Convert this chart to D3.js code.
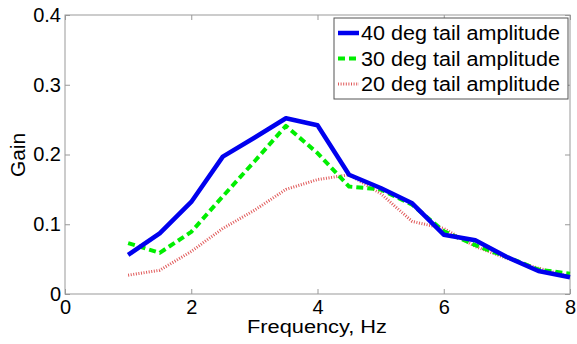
<!DOCTYPE html>
<html>
<head>
<meta charset="utf-8">
<script src="https://cdn.jsdelivr.net/npm/d3@7"></script>
<style>
	body { margin: 0; background: #fff; }
	text { font-family: "Liberation Sans", Arial, sans-serif; fill: #000; }
	.frame { fill: none; stroke: #999; stroke-width: 1; }
	.domain { display: none; }
</style>
</head>
<body>
<svg id="chart" width="577" height="344"></svg>
<script>
var freq = [1, 1.5, 2, 2.5, 3, 3.5, 4, 4.5, 5, 5.5, 6, 6.5, 7, 7.5, 8];
var gain40 = [0.056, 0.087, 0.132, 0.197, 0.224, 0.252, 0.242, 0.171, 0.152, 0.130, 0.085, 0.077, 0.053, 0.033, 0.024];
var gain30 = [0.073, 0.059, 0.089, 0.140, 0.190, 0.241, 0.202, 0.154, 0.150, 0.128, 0.090, 0.070, 0.053, 0.035, 0.029];
var gain20 = [0.027, 0.034, 0.061, 0.094, 0.120, 0.150, 0.164, 0.171, 0.144, 0.104, 0.094, 0.068, 0.051, 0.037, 0.025];
var xTicks = [0, 2, 4, 6, 8];
var yTicks = [0, 0.1, 0.2, 0.3, 0.4];
var seriesNames = ['40 deg tail amplitude', '30 deg tail amplitude', '20 deg tail amplitude'];

var m = {left: 65, top: 15, right: 570, bottom: 294};
var svg = d3.select('#chart');
var x = d3.scaleLinear().domain([0, 8]).range([m.left, m.right]);
var y = d3.scaleLinear().domain([0, 0.4]).range([m.bottom, m.top]);

var styles = [
	{color: '#0000ee', width: 4.5, dash: null},
	{color: '#00ee00', width: 4, dash: '7,4'},
	{color: '#e05a5a', width: 3, dash: '1,1.6'}
];
var series = [gain40, gain30, gain20];

// frame and inward ticks
svg.append('rect').attr('class', 'frame').attr('x', m.left).attr('y', m.top)
	.attr('width', m.right - m.left).attr('height', m.bottom - m.top);

svg.append('g').attr('transform', 'translate(0,' + m.bottom + ')')
	.call(d3.axisBottom(x).tickValues(xTicks).tickSizeInner(-5).tickSizeOuter(0).tickPadding(6).tickFormat(d3.format('d')))
	.selectAll('text').style('font-size', '20px');
svg.append('g').attr('transform', 'translate(0,' + m.top + ')')
	.call(d3.axisTop(x).tickValues(xTicks).tickSizeInner(-5).tickSizeOuter(0).tickFormat(''));
svg.append('g').attr('transform', 'translate(' + m.left + ',0)')
	.call(d3.axisLeft(y).tickValues(yTicks).tickSizeInner(-5).tickSizeOuter(0).tickPadding(4).tickFormat(function(d) { return d === 0 ? '0' : d3.format('.1f')(d); }))
	.selectAll('text').style('font-size', '20px');
svg.append('g').attr('transform', 'translate(' + m.right + ',0)')
	.call(d3.axisRight(y).tickValues(yTicks).tickSizeInner(-5).tickSizeOuter(0).tickFormat(''));

svg.selectAll('.tick line').attr('stroke', '#999');
svg.selectAll('.tick text').attr('fill', '#000');

var line = d3.line().x(function(d) { return x(d[0]); }).y(function(d) { return y(d[1]); });

for (var k = series.length - 1; k >= 0; k--) {
	var pts = freq.map(function(f, i) { return [f, series[k][i]]; });
	svg.append('path').datum(pts).attr('d', line).attr('fill', 'none')
		.attr('stroke', styles[k].color).attr('stroke-width', styles[k].width)
		.attr('stroke-dasharray', styles[k].dash).attr('stroke-linejoin', 'round');
}

// axis titles
svg.append('text').attr('x', 317).attr('y', 333).attr('text-anchor', 'middle').style('font-size', '18px')
	.attr('textLength', 140).attr('lengthAdjust', 'spacingAndGlyphs').text('Frequency, Hz');
svg.append('text').attr('transform', 'translate(25,155) rotate(-90)').attr('text-anchor', 'middle').style('font-size', '20px')
	.attr('textLength', 44).attr('lengthAdjust', 'spacingAndGlyphs').text('Gain');

// legend
var lg = svg.append('g');
lg.append('rect').attr('x', 334).attr('y', 18).attr('width', 234).attr('height', 81)
	.attr('fill', '#fff').attr('stroke', '#555').attr('stroke-width', 1);
seriesNames.forEach(function(name, i) {
	var cy = 33 + i * 25.5;
	lg.append('line').attr('x1', 338).attr('x2', 359).attr('y1', cy).attr('y2', cy)
		.attr('stroke', styles[i].color).attr('stroke-width', styles[i].width).attr('stroke-dasharray', styles[i].dash);
	lg.append('text').attr('x', 361).attr('y', cy + 7).style('font-size', '20px')
		.attr('textLength', 199).attr('lengthAdjust', 'spacingAndGlyphs').text(name);
});
</script>
</body>
</html>
